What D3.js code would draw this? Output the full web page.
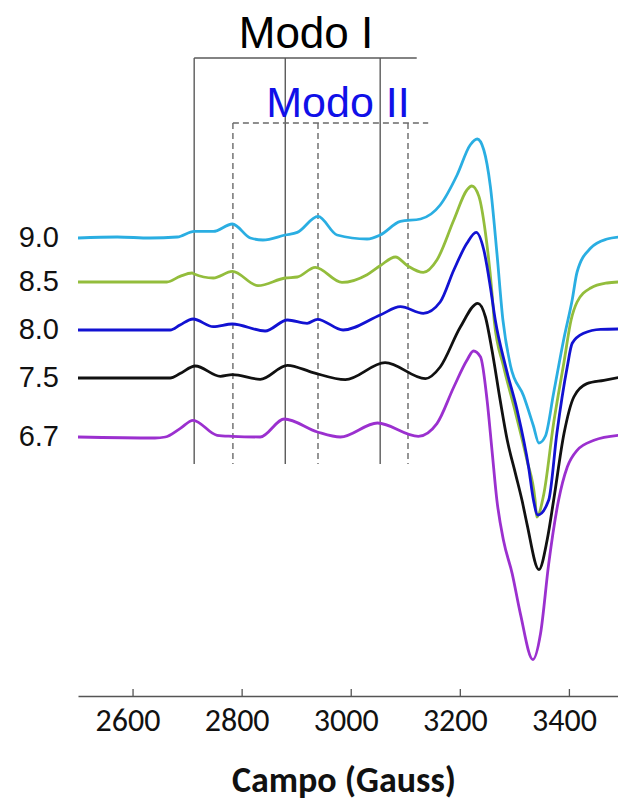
<!DOCTYPE html>
<html>
<head>
<meta charset="utf-8">
<script src="https://cdn.jsdelivr.net/npm/d3@7/dist/d3.min.js"></script>
<style>
  html, body { margin: 0; padding: 0; background: #fff; }
  svg { display: block; }
</style>
</head>
<body>
<svg id="chart" width="618" height="802"></svg>
<script>
// ---------- DATA ----------
const fieldTicks = [2600, 2800, 3000, 3200, 3400];
const seriesLabels = ["9.0", "8.5", "8.0", "7.5", "6.7"];
const baselineOffsets = [462, 418, 370, 322, 263];   // vertical offsets (a.u.)
const modeIFields = [2713, 2880, 3054];
const modeIIFields = [2784, 2940, 3105];
const modeIBracketEnd = 3121;
const modeIIBracketEnd = 3142;
const modeITop = 642, modeIITop = 577, modeBottom = 236;   // a.u.

// [field (G), signal (a.u.)]
const ph90 = [[2500,0],[2572,1],[2632,0],[2682,1],[2713,6.6],[2748,6.6],[2783,14],[2816,0],[2839,-2],[2880,3],[2902,5.6],[2940,21.6],[2975,3],[3030,-1],[3054,3],[3091,16.6],[3128,19],[3164,33],[3195,63],[3219,93],[3232,99],[3244,88],[3256,51.6],[3268,-15],[3279,-82],[3293,-128],[3317,-158],[3335,-188],[3345,-205],[3357,-198],[3372,-155],[3391,-100],[3406,-62],[3415,-34],[3440,-10],[3470,-1],[3491,1]];
const ph85 = [[2500,0],[2663,0],[2687,5.6],[2709,9],[2713,8],[2748,4],[2783,10.6],[2830,-3.7],[2880,4],[2902,5],[2935,14.6],[2984,-0.4],[3030,7.3],[3054,16.3],[3082,25],[3104,16.3],[3133,9.6],[3158,22],[3189,62],[3213,92],[3222,96],[3235,85.6],[3247,49],[3259,-11],[3263,-38],[3280,-84],[3299,-124],[3323,-178],[3338,-218],[3341,-235],[3354,-212],[3372,-141],[3391,-80],[3404,-38],[3415,-20],[3440,-6],[3470,-1],[3491,0]];
const ph80 = [[2500,0],[2669,0],[2687,5],[2711,11],[2748,3.3],[2783,6],[2843,-1],[2884,10],[2920,6.7],[2939,10.7],[2986,0],[3054,15],[3091,23.3],[3133,16.7],[3164,28],[3189,60],[3213,86.7],[3230,97.7],[3244,80],[3256,43],[3265,10],[3284,-36.7],[3305,-80],[3326,-136.7],[3335,-170],[3343,-185],[3363,-170],[3378,-103],[3397,-36.7],[3406,-13.3],[3427,-3.3],[3458,0.7],[3491,1]];
const ph75 = [[2500,0],[2669,0],[2687,4.4],[2715,12],[2761,1.7],[2783,3.4],[2834,-1.3],[2884,12.7],[2931,5.4],[2990,-1.6],[3063,15.4],[3137,-0.6],[3164,11],[3201,51],[3233,74.7],[3247,61],[3259,27.7],[3274,-22.3],[3287,-62.3],[3302,-95.6],[3314,-122.3],[3323,-145.6],[3345,-191.6],[3360,-162.3],[3372,-122.3],[3391,-55.6],[3409,-19],[3433,-5.6],[3464,-2.3],[3491,0.4]];
const ph67 = [[2500,0],[2641,-1],[2660,0],[2687,8.4],[2711,16.7],[2755,1.7],[2783,0.7],[2834,0],[2878,18],[2939,5],[2981,0],[3049,14],[3124,0.7],[3158,13.4],[3189,50],[3213,76.7],[3225,86],[3238,80],[3250,36.7],[3259,-13.3],[3268,-63.3],[3280,-103.3],[3296,-136.6],[3311,-176.6],[3334,-222.6],[3348,-196.6],[3363,-126.6],[3381,-63.3],[3397,-30],[3415,-13.3],[3446,-3.3],[3491,1.7]];
const seriesData = [ph90, ph85, ph80, ph75, ph67];

// ---------- STYLE ----------
const seriesColors = ["#2aaee2", "#93bd3c", "#1212d2", "#111111", "#9b30cf"];

// ---------- CHART ----------
const svg = d3.select("#chart");
const x = d3.scaleLinear().domain([2500, 3490]).range([78, 618]);
const y = d3.scaleLinear().domain([0, 700]).range([700, 0]);

// Mode I lines (solid)
const gm = svg.append("g");
gm.selectAll("line.m1").data(modeIFields).join("line")
  .attr("x1", d => x(d)).attr("x2", d => x(d))
  .attr("y1", y(modeITop)).attr("y2", y(modeBottom))
  .attr("stroke", "#5a5a5a").attr("stroke-width", 1.4);
gm.append("line")
  .attr("x1", x(modeIFields[0])).attr("x2", x(modeIBracketEnd))
  .attr("y1", y(modeITop)).attr("y2", y(modeITop))
  .attr("stroke", "#5a5a5a").attr("stroke-width", 1.4);
// Mode II lines (dashed)
gm.selectAll("line.m2").data(modeIIFields).join("line")
  .attr("x1", d => x(d)).attr("x2", d => x(d))
  .attr("y1", y(modeIITop)).attr("y2", y(modeBottom))
  .attr("stroke", "#6a6a6a").attr("stroke-width", 1.4).attr("stroke-dasharray", "6,4");
gm.append("line")
  .attr("x1", x(modeIIFields[0])).attr("x2", x(modeIIBracketEnd))
  .attr("y1", y(modeIITop)).attr("y2", y(modeIITop))
  .attr("stroke", "#6a6a6a").attr("stroke-width", 1.4).attr("stroke-dasharray", "6,4");

gm.append("text").text("Modo I")
  .attr("x", 306).attr("y", 48).attr("text-anchor", "middle")
  .attr("font-family", "Liberation Sans, Arial, sans-serif").attr("font-size", 44)
  .attr("fill", "#000");
gm.append("text").text("Modo II")
  .attr("x", 338).attr("y", 117).attr("text-anchor", "middle")
  .attr("font-family", "Liberation Sans, Arial, sans-serif").attr("font-size", 43)
  .attr("fill", "#1010e8");

// Curves
const line = d3.line().x(d => x(d[0])).curve(d3.curveMonotoneX);
seriesData.forEach((s, i) => {
  svg.append("path")
    .attr("d", line.y(d => y(d[1] + baselineOffsets[i]))(s))
    .attr("fill", "none")
    .attr("stroke", seriesColors[i])
    .attr("stroke-width", 2.8)
    .attr("stroke-linejoin", "round");
  svg.append("text").text(seriesLabels[i])
    .attr("x", 59).attr("y", y(baselineOffsets[i]) + 9)
    .attr("text-anchor", "end")
    .attr("font-family", "Liberation Sans, Arial, sans-serif")
    .attr("font-size", 29).attr("fill", "#111");
});

// X axis
const axisY = 696;
const axis = d3.axisTop(x).tickValues(fieldTicks).tickSize(7).tickSizeOuter(0).tickFormat(d3.format("d"));
const gx = svg.append("g").attr("transform", `translate(0,${axisY})`).call(axis);
gx.select(".domain").attr("stroke", "#555").attr("stroke-width", 1.5);
gx.selectAll(".tick line").attr("stroke", "#555").attr("stroke-width", 1.3);
gx.selectAll(".tick text")
  .attr("y", 35).attr("dy", 0).attr("dx", -5)
  .attr("font-family", "Carlito, Calibri, Lato, sans-serif")
  .attr("font-size", 32).attr("fill", "#111");

svg.append("text").text("Campo (Gauss)")
  .attr("x", 344).attr("y", 792).attr("text-anchor", "middle")
  .attr("font-family", "Carlito, Calibri, Lato, sans-serif")
  .attr("font-weight", "bold").attr("font-size", 36).attr("fill", "#111");
</script>
</body>
</html>
